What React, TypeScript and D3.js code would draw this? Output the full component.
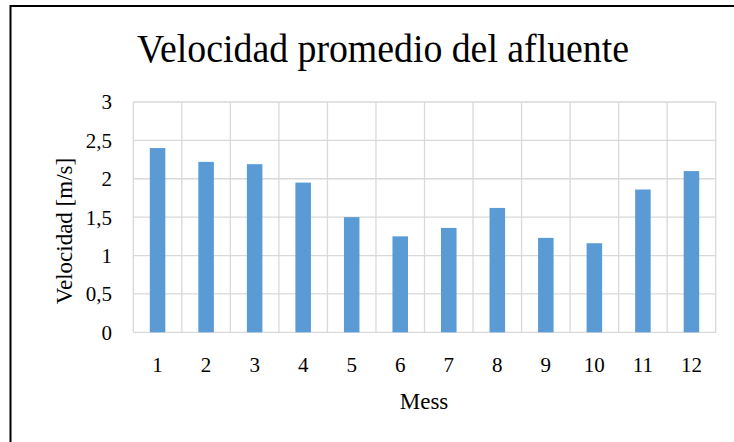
import React from "react";
import * as d3 from "d3";

const months = ["1", "2", "3", "4", "5", "6", "7", "8", "9", "10", "11", "12"];
const velocities = [2.4, 2.22, 2.19, 1.95, 1.5, 1.25, 1.36, 1.62, 1.23, 1.16, 1.86, 2.1];
const yTicks = [0, 0.5, 1, 1.5, 2, 2.5, 3];
const yTickLabels = ["0", "0,5", "1", "1,5", "2", "2,5", "3"];
const title = "Velocidad promedio del afluente";
const yTitle = "Velocidad [m/s]";
const xTitle = "Mess";

export default function App() {
  const W = 734, H = 442;
  const left = 133.3, right = 715.7, top = 102, bottom = 332.3;
  const x = d3.scaleBand<string>().domain(months).range([left, right]).paddingInner(0).paddingOuter(0);
  const y = d3.scaleLinear().domain([0, 3]).range([bottom, top]);
  const barW = x.bandwidth() * 0.32;
  const font = "'Liberation Serif', 'Times New Roman', serif";
  const grid = "#d9d9d9";
  return (
    <svg width={W} height={H} style={{ position: "absolute", left: 0, top: 0, background: "#fff" }} fontFamily={font}>
      <rect x={0} y={0} width={W} height={H} fill="#fff" />
      <rect x={10.5} y={6} width={900} height={900} fill="none" stroke="#000" strokeWidth={2} />
      <text x={383} y={62} fontSize={41} textAnchor="middle" textLength={492} lengthAdjust="spacingAndGlyphs" fill="#000">{title}</text>
      {yTicks.map((t) => (
        <line key={"h" + t} x1={left} x2={right} y1={y(t)} y2={y(t)} stroke={grid} strokeWidth={1.3} />
      ))}
      {months.map((m) => (
        <line key={"v" + m} x1={x(m)!} x2={x(m)!} y1={top} y2={bottom} stroke={grid} strokeWidth={1.3} />
      ))}
      <line x1={right} x2={right} y1={top} y2={bottom} stroke={grid} strokeWidth={1.3} />
      {months.map((m, i) => (
        <rect key={"b" + m} x={x(m)! + (x.bandwidth() - barW) / 2} y={y(velocities[i])} width={barW}
          height={y(0) - y(velocities[i])} fill="#5b9bd5" />
      ))}
      {yTicks.map((t, i) => (
        <text key={"yl" + t} x={112} y={y(t)} dy="0.35em" fontSize={21} textAnchor="end" fill="#000">{yTickLabels[i]}</text>
      ))}
      {months.map((m) => (
        <text key={"xl" + m} x={x(m)! + x.bandwidth() / 2} y={372} fontSize={21} textAnchor="middle" fill="#000">{m}</text>
      ))}
      <text transform={`translate(72,231) rotate(-90)`} fontSize={23} textAnchor="middle" fill="#000">{yTitle}</text>
      <text x={424} y={409} fontSize={23} textAnchor="middle" fill="#000">{xTitle}</text>
    </svg>
  );
}
